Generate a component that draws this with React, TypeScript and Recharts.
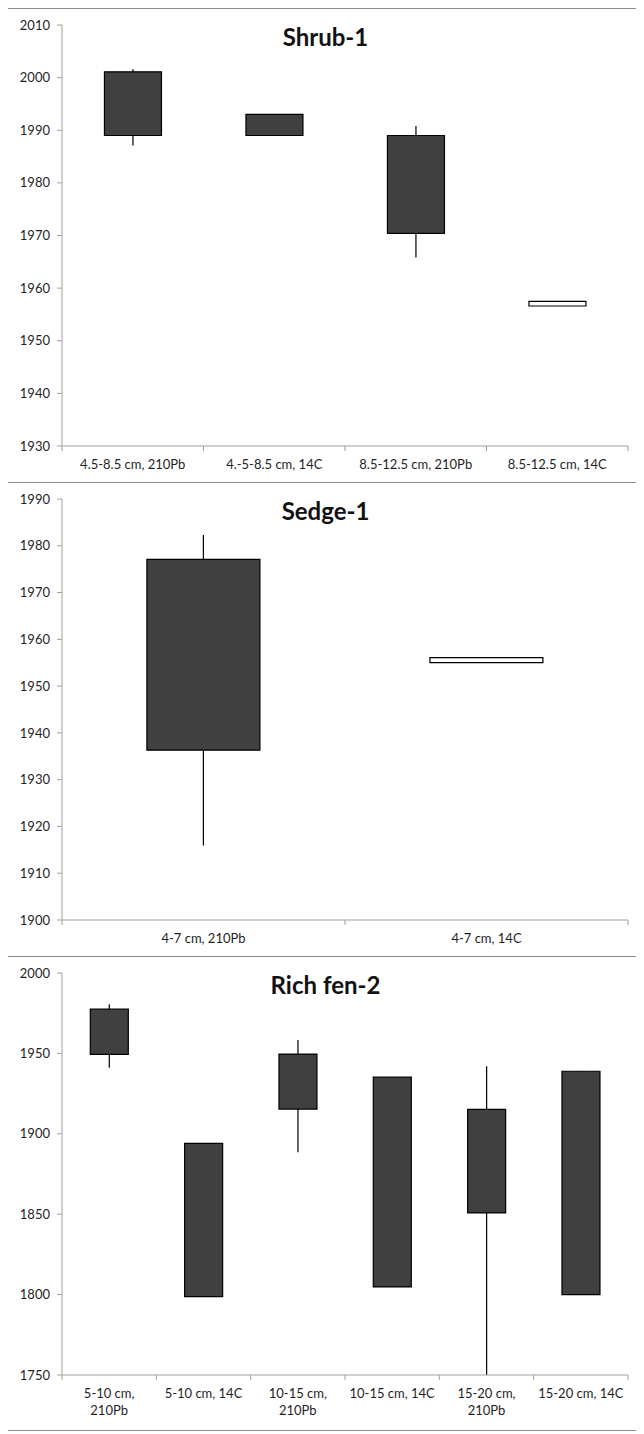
import React from "react";
import { ComposedChart, Bar, XAxis, YAxis, Cell } from "recharts";

// ---------- Shrub-1 ----------
const shrubCategories = ["4.5-8.5 cm, 210Pb", "4.-5-8.5 cm, 14C", "8.5-12.5 cm, 210Pb", "8.5-12.5 cm, 14C"];
const shrubOpen = [2001.1, 1993, 1989, 1956.6];
const shrubHigh = [2001.6, 1993, 1990.8, 1957.5];
const shrubLow = [1987.1, 1989, 1965.8, 1956.6];
const shrubClose = [1989, 1989, 1970.4, 1957.5];
const shrubTicks = [1930, 1940, 1950, 1960, 1970, 1980, 1990, 2000, 2010];

// ---------- Sedge-1 ----------
const sedgeCategories = ["4-7 cm, 210Pb", "4-7 cm, 14C"];
const sedgeOpen = [1977.1, 1955];
const sedgeHigh = [1982.3, 1956.1];
const sedgeLow = [1915.9, 1955];
const sedgeClose = [1936.3, 1956.1];
const sedgeTicks = [1900, 1910, 1920, 1930, 1940, 1950, 1960, 1970, 1980, 1990];

// ---------- Rich fen-2 ----------
const fenCategories = [
  "5-10 cm,\n210Pb",
  "5-10 cm, 14C",
  "10-15 cm,\n210Pb",
  "10-15 cm, 14C",
  "15-20 cm,\n210Pb",
  "15-20 cm, 14C",
];
const fenOpen = [1977.5, 1894.1, 1949.6, 1935.2, 1915.2, 1938.9];
const fenHigh = [1980.6, 1894.1, 1958.3, 1935.2, 1942, 1938.9];
const fenLow = [1941, 1798.8, 1888.5, 1804.8, 1750, 1800];
const fenClose = [1949.4, 1798.8, 1915.4, 1804.8, 1850.8, 1800];
const fenTicks = [1750, 1800, 1850, 1900, 1950, 2000];

const PANEL_W = 635;
const PANEL_H = 473;
const AXIS_COLOR = "#a0a0a0";
const TEXT_COLOR = "#1f1f1f";
const FONT = "Lato, 'Open Sans', sans-serif";

function buildRows(cats: string[], open: number[], high: number[], low: number[], close: number[]) {
  return cats.map((c, i) => ({
    cat: c,
    box: [Math.min(open[i], close[i]), Math.max(open[i], close[i])],
    whisker: [low[i], high[i]],
    up: close[i] > open[i],
  }));
}

const WhiskerShape = (p: any) => {
  const { x, y, width, height } = p;
  if (x == null || y == null) return null;
  const cx = x + width / 2;
  return <line x1={cx} x2={cx} y1={y} y2={y + height} stroke="#000" strokeWidth={1.2} />;
};

const makeXTick = (fallbackHalf: number) => (props: any) => {
  const { x, y, payload, index, visibleTicksCount } = props;
  const off = payload && typeof payload.offset === "number" && payload.offset > 0 ? payload.offset : fallbackHalf;
  const lines = String(payload.value).split("\n");
  const isLast = index === visibleTicksCount - 1;
  return (
    <g>
      <line x1={x - off} x2={x - off} y1={y} y2={y + 5} stroke={AXIS_COLOR} strokeWidth={1} />
      {isLast && <line x1={x + off} x2={x + off} y1={y} y2={y + 5} stroke={AXIS_COLOR} strokeWidth={1} />}
      <text x={x} y={y + 23} textAnchor="middle" fill={TEXT_COLOR} fontSize={13} fontFamily={FONT}>
        {lines.map((ln, i) => (
          <tspan key={i} x={x} dy={i === 0 ? 0 : 17.3}>
            {ln}
          </tspan>
        ))}
      </text>
    </g>
  );
};

type PanelProps = {
  title: string;
  cats: string[];
  open: number[];
  high: number[];
  low: number[];
  close: number[];
  ticks: number[];
  xAxisHeight: number;
  bottomMargin: number;
  last?: boolean;
};

function Panel({ title, cats, open, high, low, close, ticks, xAxisHeight, bottomMargin, last }: PanelProps) {
  const rows = buildRows(cats, open, high, low, close);
  const left = 54;
  const right = 15;
  const fallbackHalf = (PANEL_W - left - right) / cats.length / 2;
  const XTick = makeXTick(fallbackHalf);
  return (
    <div
      style={{
        position: "relative",
        width: PANEL_W,
        height: PANEL_H,
        borderTop: "1px solid #8c8c8c",
        borderLeft: "1px solid #8c8c8c",
        borderRight: "1px solid #8c8c8c",
        borderBottom: last ? "1px solid #8c8c8c" : "none",
        fontFamily: FONT,
      }}
    >
      <ComposedChart
        width={PANEL_W}
        height={PANEL_H}
        data={rows}
        margin={{ top: 16, right: right, left: 0, bottom: bottomMargin }}
        barCategoryGap="30%"
      >
        <XAxis
          dataKey="cat"
          height={xAxisHeight}
          stroke={AXIS_COLOR}
          axisLine={{ stroke: AXIS_COLOR }}
          tickLine={false}
          tickSize={0}
          tickMargin={0}
          interval={0}
          tick={<XTick />}
        />
        <XAxis xAxisId="w" dataKey="cat" hide />
        <YAxis
          width={left}
          domain={[ticks[0], ticks[ticks.length - 1]]}
          ticks={ticks}
          allowDataOverflow
          interval={0}
          axisLine={{ stroke: AXIS_COLOR }}
          tickLine={{ stroke: AXIS_COLOR }}
          tickSize={5}
          tickMargin={7}
          tick={{ fill: TEXT_COLOR, fontSize: 13, fontFamily: FONT }}
        />
        <Bar xAxisId="w" dataKey="whisker" shape={<WhiskerShape />} isAnimationActive={false} />
        <Bar dataKey="box" stroke="#000" strokeWidth={1.2} isAnimationActive={false}>
          {rows.map((r, i) => (
            <Cell key={i} fill={r.up ? "#ffffff" : "#404040"} />
          ))}
        </Bar>
      </ComposedChart>
      <svg
        width={PANEL_W}
        height={50}
        style={{ position: "absolute", left: 0, top: 0, pointerEvents: "none" }}
      >
        <text x={PANEL_W / 2} y={37} textAnchor="middle" fontSize={24} fontWeight="bold" fontFamily={FONT} fill="#111">
          {title}
        </text>
      </svg>
    </div>
  );
}

export default function App() {
  return (
    <div style={{ marginLeft: -1, width: PANEL_W + 2 }}>
      <Panel
        title="Shrub-1"
        cats={shrubCategories}
        open={shrubOpen}
        high={shrubHigh}
        low={shrubLow}
        close={shrubClose}
        ticks={shrubTicks}
        xAxisHeight={30}
        bottomMargin={6}
      />
      <Panel
        title="Sedge-1"
        cats={sedgeCategories}
        open={sedgeOpen}
        high={sedgeHigh}
        low={sedgeLow}
        close={sedgeClose}
        ticks={sedgeTicks}
        xAxisHeight={30}
        bottomMargin={6}
      />
      <Panel
        title="Rich fen-2"
        cats={fenCategories}
        open={fenOpen}
        high={fenHigh}
        low={fenLow}
        close={fenClose}
        ticks={fenTicks}
        xAxisHeight={50}
        bottomMargin={5}
        last
      />
    </div>
  );
}
